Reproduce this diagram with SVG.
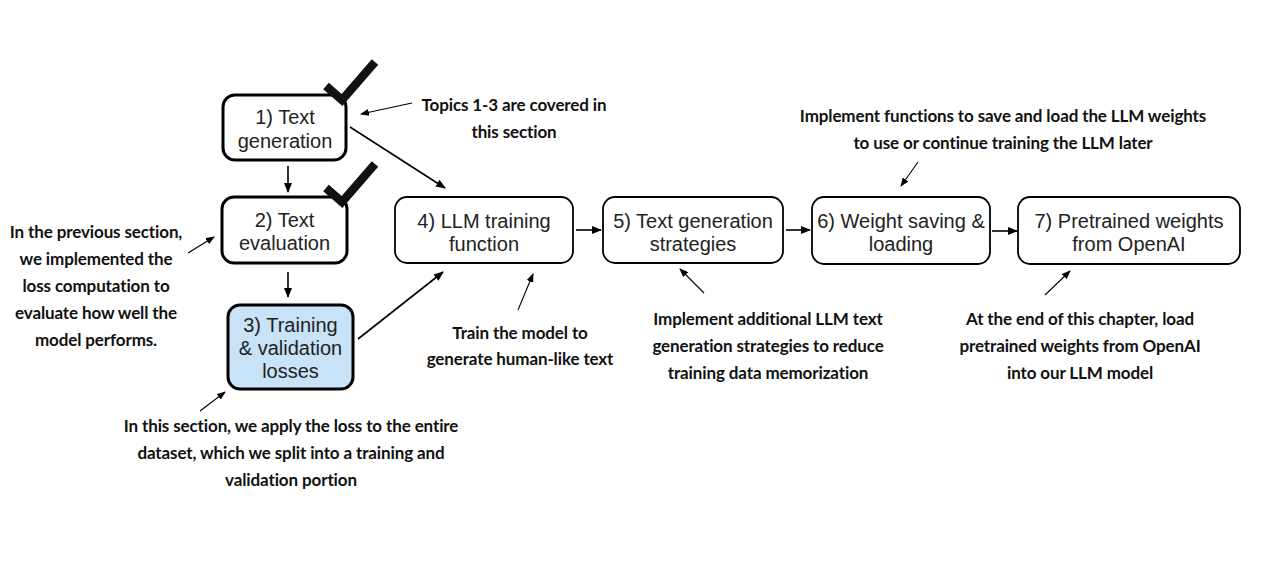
<svg xmlns="http://www.w3.org/2000/svg" width="1285" height="568" viewBox="0 0 1285 568">
<style>
.box{fill:#fff;stroke:#000;stroke-width:1.8}
.bold{stroke-width:3}
.blue{fill:#c8e2f7}
.nt{font-family:"Liberation Sans",Arial,sans-serif;font-size:20px;fill:#222;text-anchor:middle}
.an{font-family:Lato,"Open Sans",sans-serif;font-weight:700;font-size:17px;fill:#111;text-anchor:middle;letter-spacing:-0.12px}
.ln{stroke:#000;stroke-width:1.6;fill:none;marker-end:url(#ah)}
.tn{stroke:#000;stroke-width:1.1;fill:none;marker-end:url(#ah2)}
.chk{stroke:#111;stroke-width:8.5;fill:none;stroke-linejoin:miter}
</style>
<defs>
<marker id="ah" markerWidth="10" markerHeight="8" refX="9" refY="4" orient="auto" markerUnits="userSpaceOnUse"><path d="M0,0 L10,4 L0,8 z" fill="#000"/></marker>
<marker id="ah2" markerWidth="9" markerHeight="7" refX="8" refY="3.5" orient="auto" markerUnits="userSpaceOnUse"><path d="M0,0 L9,3.5 L0,7 z" fill="#000"/></marker>
</defs>
<rect width="1285" height="568" fill="#fff"/>
<g id="connectors">
<line class="ln" x1="288" y1="166" x2="288" y2="192"/>
<line class="ln" x1="288" y1="272" x2="288" y2="297"/>
<line class="ln" x1="350" y1="127" x2="445" y2="188"/>
<line class="ln" x1="358" y1="339" x2="443" y2="272"/>
<line class="ln" x1="576" y1="230" x2="601" y2="230"/>
<line class="ln" x1="786" y1="230" x2="810" y2="230"/>
<line class="ln" x1="992" y1="231" x2="1017" y2="231"/>
<line class="tn" x1="412" y1="103" x2="361" y2="114"/>
<line class="tn" x1="188" y1="253" x2="214" y2="237"/>
<line class="tn" x1="200" y1="411" x2="225" y2="392"/>
<line class="tn" x1="518" y1="310" x2="533" y2="274"/>
<line class="tn" x1="704" y1="293" x2="680" y2="269"/>
<line class="tn" x1="918" y1="162" x2="901" y2="186"/>
<line class="tn" x1="1045" y1="295" x2="1070" y2="271"/>
</g>
<g id="node1">
<rect class="box bold" x="223" y="95" width="123" height="65" rx="12"/>
<path class="chk" d="M326,86 L342,100 L375,62"/>
<text class="nt" x="285" y="124">1) Text</text>
<text class="nt" x="285" y="148">generation</text>
</g>
<g id="node2">
<rect class="box bold" x="222" y="197" width="125" height="66" rx="12"/>
<path class="chk" d="M326,188 L342,202 L375,164"/>
<text class="nt" x="284.5" y="227">2) Text</text>
<text class="nt" x="284.5" y="250">evaluation</text>
</g>
<g id="node3">
<rect class="box bold blue" x="228" y="305" width="125" height="84" rx="12"/>
<text class="nt" x="290.5" y="332">3) Training</text>
<text class="nt" x="290.5" y="355">&amp; validation</text>
<text class="nt" x="290.5" y="378">losses</text>
</g>
<g id="node4">
<rect class="box" x="395" y="197" width="178" height="66" rx="12"/>
<text class="nt" x="484" y="228">4) LLM training</text>
<text class="nt" x="484" y="251">function</text>
</g>
<g id="node5">
<rect class="box" x="603" y="197" width="180" height="66" rx="12"/>
<text class="nt" x="693" y="228">5) Text generation</text>
<text class="nt" x="693" y="251">strategies</text>
</g>
<g id="node6">
<rect class="box" x="812" y="197" width="178" height="67" rx="12"/>
<text class="nt" x="901" y="228">6) Weight saving &amp;</text>
<text class="nt" x="901" y="251">loading</text>
</g>
<g id="node7">
<rect class="box" x="1018" y="197" width="222" height="67" rx="12"/>
<text class="nt" x="1129" y="228">7) Pretrained weights</text>
<text class="nt" x="1129" y="251">from OpenAI</text>
</g>
<g id="annotations">
<text class="an" x="514" y="111">Topics 1-3 are covered in</text>
<text class="an" x="514" y="138">this section</text>
<text class="an" x="96" y="238">In the previous section,</text>
<text class="an" x="96" y="265">we implemented the</text>
<text class="an" x="96" y="292">loss computation to</text>
<text class="an" x="96" y="319">evaluate how well the</text>
<text class="an" x="96" y="346">model performs.</text>
<text class="an" x="291" y="432">In this section, we apply the loss to the entire</text>
<text class="an" x="291" y="459">dataset, which we split into a training and</text>
<text class="an" x="291" y="486">validation portion</text>
<text class="an" x="520" y="339">Train the model to</text>
<text class="an" x="520" y="365">generate human-like text</text>
<text class="an" x="768" y="325">Implement additional LLM text</text>
<text class="an" x="768" y="352">generation strategies to reduce</text>
<text class="an" x="768" y="379">training data memorization</text>
<text class="an" x="1003" y="122">Implement functions to save and load the LLM weights</text>
<text class="an" x="1003" y="149">to use or continue training the LLM later</text>
<text class="an" x="1080" y="325">At the end of this chapter, load</text>
<text class="an" x="1080" y="352">pretrained weights from OpenAI</text>
<text class="an" x="1080" y="379">into our LLM model</text>
</g>
</svg>
